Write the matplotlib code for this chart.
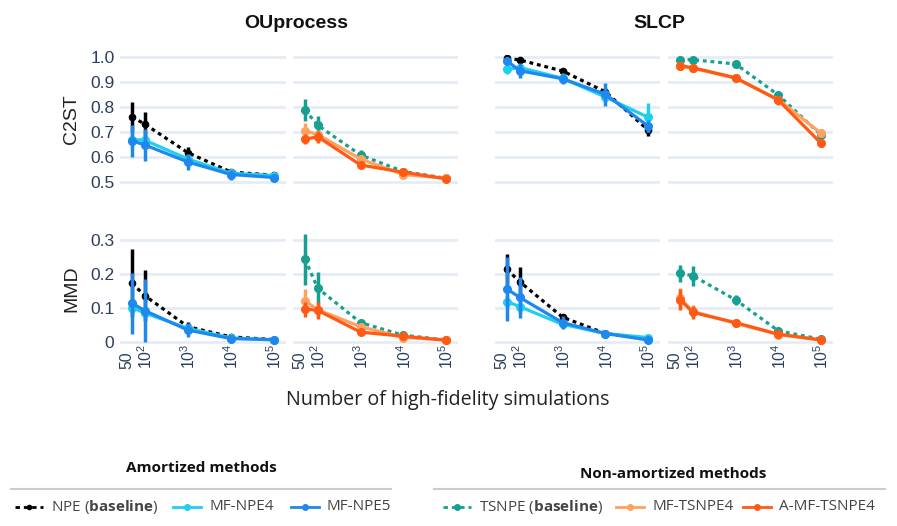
import matplotlib
matplotlib.use("Agg")
import matplotlib.pyplot as plt
from matplotlib.lines import Line2D
from matplotlib.transforms import blended_transform_factory, offset_copy

plt.rcParams['font.family'] = ['Liberation Sans', 'DejaVu Sans']
plt.rcParams['mathtext.fontset'] = 'custom'
plt.rcParams['mathtext.rm'] = 'Liberation Sans'
plt.rcParams['mathtext.bf'] = 'Open Sans:bold'

# number of high-fidelity simulations
n_sims = [50, 100, 1000, 10000, 100000]
tick_labels = ['50', r'$10^{2}$', r'$10^{3}$', r'$10^{4}$', r'$10^{5}$']

# ---- OUprocess, C2ST
ou_c2st_npe = [0.761, 0.731, 0.617, 0.540, 0.527]
ou_c2st_npe_err = [0.06, 0.05, 0.025, 0.012, 0.006]
ou_c2st_mfnpe4 = [0.670, 0.667, 0.592, 0.535, 0.526]
ou_c2st_mfnpe4_err = [0.03, 0.03, 0.02, 0.015, 0.006]
ou_c2st_mfnpe5 = [0.665, 0.648, 0.580, 0.530, 0.518]
ou_c2st_mfnpe5_err = [0.065, 0.065, 0.03, 0.02, 0.006]
ou_c2st_tsnpe = [0.788, 0.727, 0.608, 0.542, 0.515]
ou_c2st_tsnpe_err = [0.043, 0.038, 0.02, 0.008, 0.004]
ou_c2st_mftsnpe4 = [0.704, 0.690, 0.592, 0.530, 0.515]
ou_c2st_mftsnpe4_err = [0.032, 0.02, 0.015, 0.01, 0.004]
ou_c2st_amftsnpe4 = [0.671, 0.681, 0.568, 0.539, 0.513]
ou_c2st_amftsnpe4_err = [0.02, 0.025, 0.01, 0.008, 0.004]

# ---- SLCP, C2ST
slcp_c2st_npe = [0.995, 0.988, 0.944, 0.861, 0.708]
slcp_c2st_npe_err = [0.005, 0.006, 0.01, 0.015, 0.022]
slcp_c2st_mfnpe4 = [0.951, 0.958, 0.915, 0.840, 0.759]
slcp_c2st_mfnpe4_err = [0.02, 0.015, 0.02, 0.02, 0.058]
slcp_c2st_mfnpe5 = [0.985, 0.945, 0.913, 0.851, 0.724]
slcp_c2st_mfnpe5_err = [0.01, 0.03, 0.02, 0.045, 0.025]
slcp_c2st_tsnpe = [0.990, 0.989, 0.972, 0.848, 0.688]
slcp_c2st_tsnpe_err = [0.005, 0.005, 0.006, 0.012, 0.01]
slcp_c2st_mftsnpe4 = [0.963, 0.955, 0.915, 0.830, 0.695]
slcp_c2st_mftsnpe4_err = [0.006, 0.006, 0.01, 0.015, 0.012]
slcp_c2st_amftsnpe4 = [0.965, 0.957, 0.917, 0.828, 0.655]
slcp_c2st_amftsnpe4_err = [0.006, 0.006, 0.012, 0.018, 0.016]

# ---- OUprocess, MMD
ou_mmd_npe = [0.173, 0.136, 0.045, 0.015, 0.007]
ou_mmd_npe_err = [0.10, 0.075, 0.015, 0.004, 0.002]
ou_mmd_mfnpe4 = [0.101, 0.085, 0.040, 0.012, 0.006]
ou_mmd_mfnpe4_err = [0.02, 0.02, 0.012, 0.004, 0.002]
ou_mmd_mfnpe5 = [0.114, 0.092, 0.035, 0.010, 0.007]
ou_mmd_mfnpe5_err = [0.09, 0.092, 0.02, 0.005, 0.002]
ou_mmd_tsnpe = [0.244, 0.158, 0.057, 0.020, 0.006]
ou_mmd_tsnpe_err = [0.075, 0.047, 0.01, 0.004, 0.002]
ou_mmd_mftsnpe4 = [0.121, 0.095, 0.045, 0.013, 0.007]
ou_mmd_mftsnpe4_err = [0.035, 0.02, 0.01, 0.004, 0.002]
ou_mmd_amftsnpe4 = [0.097, 0.093, 0.029, 0.017, 0.005]
ou_mmd_amftsnpe4_err = [0.022, 0.025, 0.006, 0.004, 0.002]

# ---- SLCP, MMD
slcp_mmd_npe = [0.214, 0.177, 0.073, 0.025, 0.008]
slcp_mmd_npe_err = [0.045, 0.045, 0.01, 0.005, 0.003]
slcp_mmd_mfnpe4 = [0.119, 0.104, 0.052, 0.025, 0.013]
slcp_mmd_mfnpe4_err = [0.02, 0.02, 0.008, 0.005, 0.004]
slcp_mmd_mfnpe5 = [0.156, 0.131, 0.057, 0.025, 0.006]
slcp_mmd_mfnpe5_err = [0.095, 0.06, 0.02, 0.01, 0.003]
slcp_mmd_tsnpe = [0.202, 0.195, 0.124, 0.033, 0.008]
slcp_mmd_tsnpe_err = [0.025, 0.03, 0.015, 0.005, 0.003]
slcp_mmd_mftsnpe4 = [0.130, 0.090, 0.055, 0.022, 0.006]
slcp_mmd_mftsnpe4_err = [0.03, 0.02, 0.008, 0.004, 0.002]
slcp_mmd_amftsnpe4 = [0.125, 0.087, 0.057, 0.023, 0.006]
slcp_mmd_amftsnpe4_err = [0.03, 0.02, 0.007, 0.004, 0.002]

# styles: (label, color, dotted?, marker size)
styles = {
    'npe': ('NPE ($\\mathbf{baseline}$)', '#000000', True, 4.5),
    'mfnpe4': ('MF-NPE4', '#1fd0ee', False, 5.5),
    'mfnpe5': ('MF-NPE5', '#1e88ee', False, 5.5),
    'tsnpe': ('TSNPE ($\\mathbf{baseline}$)', '#17a08f', True, 5.5),
    'mftsnpe4': ('MF-TSNPE4', '#ffa160', False, 5.5),
    'amftsnpe4': ('A-MF-TSNPE4', '#ff5a14', False, 5.5),
}
amortized = ['npe', 'mfnpe4', 'mfnpe5']
non_amortized = ['tsnpe', 'mftsnpe4', 'amftsnpe4']

data = globals()

W, H = 897, 526
fig = plt.figure(figsize=(W / 100, H / 100), dpi=100)

col_x = [(120, 286), (293, 458), (495, 660), (668, 833)]
row_y = [(54.5, 184.5), (233.2, 343.7)]
metrics = ['c2st', 'mmd']
tasks = ['ou', 'slcp']
ylims = [(0.49, 1.01), (-0.005, 0.32)]
yticks = [[0.5, 0.6, 0.7, 0.8, 0.9, 1.0], [0, 0.1, 0.2, 0.3]]
yticklabels = [['0.5', '0.6', '0.7', '0.8', '0.9', '1.0'], ['0', '0.1', '0.2', '0.3']]
tick_color = '#2a3f5f'

for r, metric in enumerate(metrics):
    for c in range(4):
        task = tasks[c // 2]
        group = amortized if c % 2 == 0 else non_amortized
        x0, x1 = col_x[c]
        y0, y1 = row_y[r]
        ax = fig.add_axes([x0 / W, 1 - y1 / H, (x1 - x0) / W, (y1 - y0) / H])
        ax.set_xscale('log')
        ax.set_xlim(10 ** 1.42, 10 ** 5.28)
        ax.set_ylim(*ylims[r])
        for s in ax.spines.values():
            s.set_visible(False)
        ax.set_yticks(yticks[r])
        ax.grid(axis='y', color='#e5ecf6', lw=2)
        ax.set_axisbelow(True)
        ax.minorticks_off()
        ax.tick_params(length=0, labelsize=12.5, labelcolor=tick_color, pad=4)
        ax.set_xticks([])
        if c == 0:
            ax.set_yticklabels(yticklabels[r])
            ax.set_ylabel(metric.upper(), fontsize=14, color='#222222', labelpad=7)
        else:
            ax.set_yticklabels([])
        if r == 1:
            # rotated x tick labels, bottom-aligned like the original
            trans = blended_transform_factory(ax.transData, ax.transAxes)
            for i, (n, lab) in enumerate(zip(n_sims, tick_labels)):
                dx = -5 if i == 0 else 1
                t = offset_copy(trans, fig=fig, x=dx, y=-25.5, units='dots')
                ax.text(n, 0, lab, transform=t, rotation=90, ha='center', va='bottom',
                        fontsize=11.3, color=tick_color)

        for m in group:
            label, color, dotted, ms = styles[m]
            y = data[f'{task}_{metric}_{m}']
            e = data[f'{task}_{metric}_{m}_err']
            ls = (0, (1.2, 1.2)) if dotted else '-'
            ax.errorbar(n_sims, y, yerr=e, fmt='none', ecolor=color, elinewidth=2.5, capsize=0)
            ax.plot(n_sims, y, color=color, lw=2.3, ls=ls, marker='o', ms=ms)

# panel titles
fig.text((120 + 458) / 2 / W + 0.008, 1 - 24 / H, 'OUprocess', ha='center', va='center',
         fontsize=14, fontweight='bold', color='#111111')
fig.text((495 + 833) / 2 / W - 0.005, 1 - 24 / H, 'SLCP', ha='center', va='center',
         fontsize=14, fontweight='bold', color='#111111')

fig.text(448 / W, 1 - 400 / H, 'Number of high-fidelity simulations', ha='center', va='center',
         fontsize=14.2, family=['Open Sans', 'DejaVu Sans'], color='#222222')

# legends
def legend_group(title, tx, ty, line_x, entries, entry_x):
    fig.text(tx / W, 1 - ty / H, title, ha='center', va='center', fontsize=11,
             fontweight='bold', family=['Open Sans', 'DejaVu Sans'], color='#111111')
    fig.add_artist(Line2D([line_x[0] / W, line_x[1] / W], [1 - 489 / H, 1 - 489 / H],
                          color='#cccccc', lw=1.5))
    for m, ex in zip(entries, entry_x):
        label, color, dotted, ms = styles[m]
        ls = (0, (1.6, 1.4)) if dotted else '-'
        ly = 1 - 507 / H
        fig.add_artist(Line2D([ex / W, (ex + 14) / W, (ex + 28) / W], [ly, ly, ly], color=color,
                              lw=2.0, ls=ls, marker='o', ms=ms - 1.5, markevery=[1]))
        fig.text((ex + 36) / W, ly, label, ha='left', va='center', fontsize=11,
                 family=['Open Sans', 'DejaVu Sans'], color='#444444')

legend_group('Amortized methods', 201, 468, (11, 391), amortized, [15, 173, 291])
legend_group('Non-amortized methods', 673, 474, (434, 885), non_amortized, [443, 616, 743])

fig.savefig('out.png', dpi=100)
